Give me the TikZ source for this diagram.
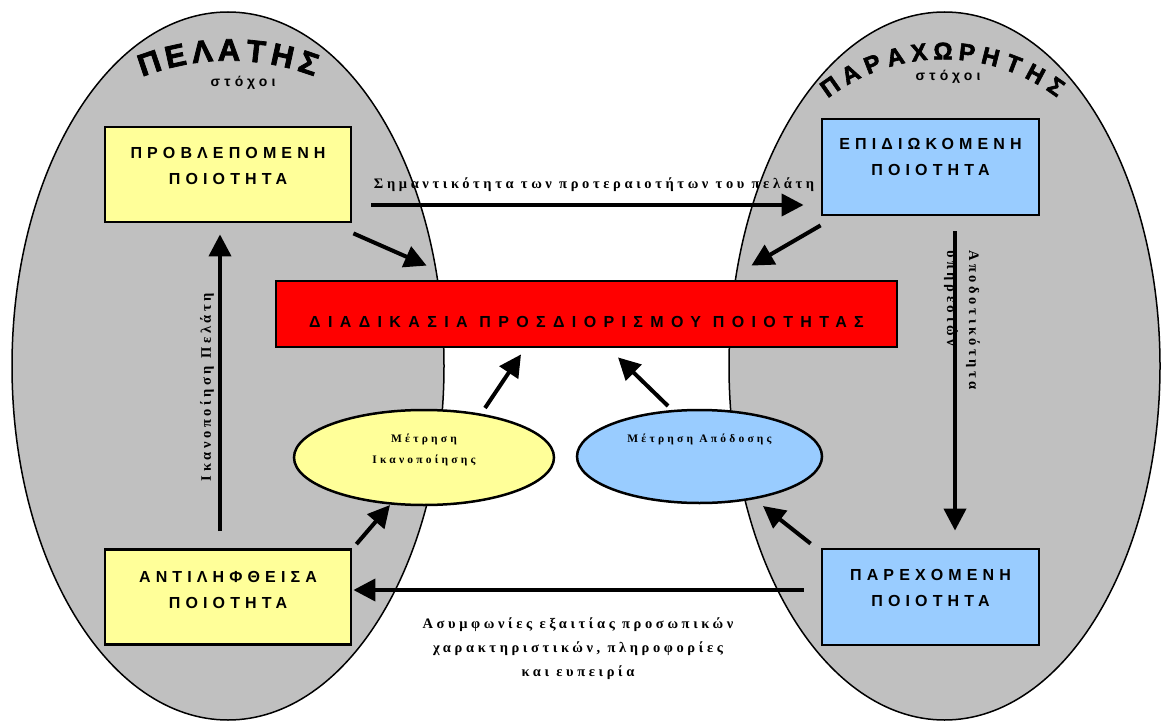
\documentclass[tikz,border=0pt]{standalone}
\usepackage{fontspec}
\setmainfont{Liberation Serif}
\newfontfamily\boxfont[LetterSpace=32]{Liberation Sans}
\newfontfamily\redfont[LetterSpace=46]{Liberation Sans}
\newfontfamily\smallsans[LetterSpace=30]{Liberation Sans}
\newfontfamily\serifsp[LetterSpace=25]{Liberation Serif}
\newfontfamily\serifell[LetterSpace=28]{Liberation Serif}
\newfontfamily\titlefont[FakeBold=2.5]{Liberation Sans}
\usetikzlibrary{arrows.meta,shapes.geometric,calc}
\definecolor{grayc}{HTML}{C0C0C0}
\definecolor{yelc}{HTML}{FFFF99}
\definecolor{bluc}{HTML}{99CCFF}
\definecolor{redc}{HTML}{FF0000}
\tikzset{
  bigell/.style={draw, line width=1.5pt, fill=grayc},
  qbox/.style={draw, line width=2.8pt, inner sep=0pt},
  yelbox/.style={qbox, fill=yelc, minimum width=246pt, minimum height=95pt},
  blubox/.style={qbox, fill=bluc, minimum width=217pt, minimum height=96pt},
  redbox/.style={qbox, fill=redc, minimum width=621pt, minimum height=66pt},
  boxtxt/.style={inner sep=0pt, align=center, font=\boxfont\bfseries\fontsize{16}{26}\selectfont},
  redtxt/.style={inner sep=0pt, font=\redfont\bfseries\fontsize{16}{18}\selectfont},
  measell/.style={ellipse, draw, line width=2.5pt, inner sep=0pt},
  arr/.style={line width=4pt, -{Triangle[length=22pt,width=22pt]}},
  lbl/.style={inner sep=0pt, font=\serifsp\bfseries\fontsize{14.5}{23}\selectfont},
  elltxt/.style={inner sep=0pt, font=\serifell\bfseries\fontsize{11.5}{21}\selectfont},
  goal/.style={inner sep=0pt, font=\smallsans\bfseries\fontsize{14}{15}\selectfont},
  ltitle/.style={inner sep=0pt, font=\titlefont\bfseries\fontsize{31}{33}\selectfont},
  rtitle/.style={inner sep=0pt, font=\titlefont\bfseries\fontsize{24}{26}\selectfont},
}
\begin{document}
\begin{tikzpicture}[x=1pt,y=-1pt]
\useasboundingbox[fill=white] (0,0) rectangle (1162,722);
% big ellipses
\draw[bigell] (228,366) ellipse [x radius=216, y radius=354];
\draw[bigell] (944.5,366) ellipse [x radius=215.5, y radius=354];
% titles
\foreach \l [count=\i from 0] in {Π,Ε,Λ,Α,Τ,Η,Σ}{
  \pgfmathsetmacro\a{-18.6+6.2*\i}
  \node[ltitle, rotate=-\a] (lt\i) at ({229+250*sin(\a)},{300-250*cos(\a)}) {\l};
}
\foreach \l [count=\i from 0] in {Π,Α,Ρ,Α,Χ,Ω,Ρ,Η,Τ,Η,Σ}{
  \pgfmathsetmacro\a{-35+7*\i}
  \node[rtitle, rotate=-\a] (rt\i) at ({943+197*sin(\a)},{248-197*cos(\a)}) {\l};
}
\node[goal] (lg) at (243,83) {στόχοι};
\node[goal] (rg) at (948,77) {στόχοι};
% boxes
\node[yelbox] (prob) at (228,174.5) {};
\node[blubox] (epi) at (930.5,167) {};
\node[yelbox] (ant) at (228,597) {};
\node[blubox] (par) at (930.5,597) {};
\node[redbox] (red) at (586.5,314) {};
\node[boxtxt] (probt) at ($(prob)+(0,-9)$) {ΠΡΟΒΛΕΠΟΜΕΝΗ\\ΠΟΙΟΤΗΤΑ};
\node[boxtxt] (epit) at ($(epi)+(0,-10)$) {ΕΠΙΔΙΩΚΟΜΕΝΗ\\ΠΟΙΟΤΗΤΑ};
\node[boxtxt] (antt) at ($(ant)+(0,-7)$) {ΑΝΤΙΛΗΦΘΕΙΣΑ\\ΠΟΙΟΤΗΤΑ};
\node[boxtxt] (part) at ($(par)+(0,-9)$) {ΠΑΡΕΧΟΜΕΝΗ\\ΠΟΙΟΤΗΤΑ};
\node[redtxt] (redt) at ($(red)+(0,8)$) {ΔΙΑΔΙΚΑΣΙΑ ΠΡΟΣΔΙΟΡΙΣΜΟΥ ΠΟΙΟΤΗΤΑΣ};
% measurement ellipses
\node[measell, fill=yelc, minimum width=260pt, minimum height=95pt] (ik) at (424,457.5) {};
\node[measell, fill=bluc, minimum width=245pt, minimum height=93pt] (ap) at (699.5,456.5) {};
\node[elltxt] (ikt1) at ($(ik)+(0,-18)$) {Μέτρηση};
\node[elltxt] (ikt2) at ($(ik)+(0,3)$) {Ικανοποίησης};
\node[elltxt] (apt) at ($(ap)+(0,-17)$) {Μέτρηση Απόδοσης};
% labels
\node[lbl] (topl) at (594,185) {Σημαντικότητα των προτεραιοτήτων του πελάτη};
\node[lbl] (bot1) at (578,625) {Ασυμφωνίες εξαιτίας προσωπικών};
\node[lbl] (bot2) at (578,649) {χαρακτηριστικών, πληροφορίες};
\node[lbl] (bot3) at (578,673) {και ευπειρία};
\node[lbl, rotate=90] (lv) at (207,387) {Ικανοποίηση Πελάτη};
\node[lbl, rotate=-90, anchor=west] (rv1) at (973,250) {Αποδοτικότητα};
\node[lbl, rotate=-90, anchor=west] (rv2) at (951,250) {υπηρεσιών};
% arrows
\draw[arr] ($(prob.east)+(19,30.5)$) -- ($(epi.west)+(-17,38)$);
\draw[arr] ($(prob.south east)+(1,10)$) -- ($(red.north west)+(152,-14)$);
\draw[arr] ($(epi.south west)+(0,9)$) -- ($(red.north east)+(-147,-14)$);
\draw[arr] ($(epi.south)+(24.5,15)$) -- ($(par.north)+(24.5,-17)$);
\draw[arr] ($(ant.north)+(-8,-17)$) -- ($(prob.south)+(-8,11)$);
\draw[arr] ($(par.west)+(-17,-7)$) -- ($(ant.east)+(1,-7)$);
\draw[arr] ($(ik.center)+(61,-49.5)$) -- ($(red.south)+(-65.5,6)$);
\draw[arr] ($(ap.center)+(-31.5,-50.5)$) -- ($(red.south)+(31.5,9)$);
\draw[arr] ($(ant.north east)+(4,-4)$) -- ($(ik.center)+(-34,47.5)$);
\draw[arr] ($(par.north west)+(-10,-4)$) -- ($(ap.center)+(63.5,49.5)$);
\end{tikzpicture}
\end{document}
